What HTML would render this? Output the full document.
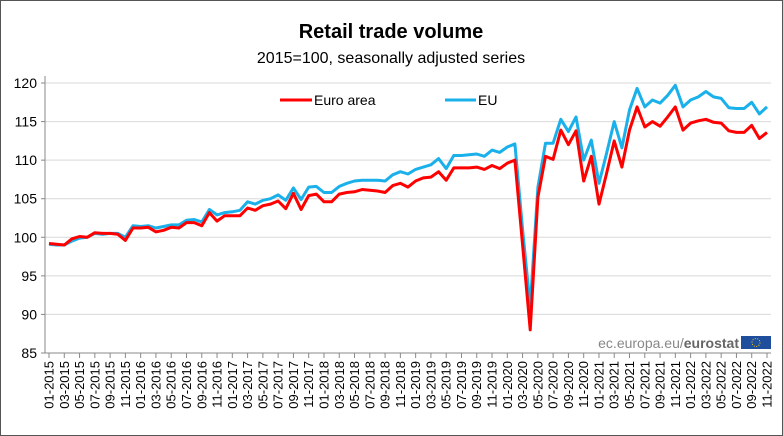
<!DOCTYPE html>
<html><head><meta charset="utf-8"><style>
html,body{margin:0;padding:0;background:#fff}
svg{display:block;font-family:"Liberation Sans",Arial,sans-serif}
</style></head><body>
<svg id="s" width="783" height="436" viewBox="0 0 783 436" xmlns="http://www.w3.org/2000/svg">
<rect x="0.5" y="0.5" width="782" height="435" fill="#fff" stroke="#555" stroke-width="1"/>
<text x="391" y="38" text-anchor="middle" font-size="20" font-weight="bold" fill="#000">Retail trade volume</text>
<text x="391" y="63" text-anchor="middle" font-size="16" fill="#000">2015=100, seasonally adjusted series</text>
<g id="grid"></g>
<line x1="280" y1="100" x2="312" y2="100" stroke="#ff0000" stroke-width="3"/>
<text x="314" y="105" font-size="14" fill="#000">Euro area</text>
<line x1="445" y1="100" x2="476" y2="100" stroke="#1ab0ea" stroke-width="3"/>
<text x="478" y="105" font-size="14" fill="#000">EU</text>
<polyline id="eu" fill="none" stroke="#1ab0ea" stroke-width="3" stroke-linejoin="round"/>
<polyline id="ea" fill="none" stroke="#ff0000" stroke-width="3" stroke-linejoin="round"/>
<text x="739" y="348" text-anchor="end" font-size="14" fill="#888">ec.europa.eu/<tspan font-weight="bold" fill="#666">eurostat</tspan></text>
<rect x="741" y="336" width="30" height="13" fill="#1f4e9c"/>
<circle cx="756" cy="342.5" r="4" fill="none" stroke="#ffd400" stroke-width="1" stroke-dasharray="1 1.5"/>
<g id="ax"></g>
</svg>
<script>
var ea=[99.2,99.1,99.0,99.8,100.1,100.0,100.6,100.5,100.5,100.4,99.6,101.2,101.2,101.3,100.7,100.9,101.3,101.2,101.9,101.9,101.5,103.2,102.1,102.8,102.8,102.8,103.8,103.5,104.1,104.3,104.7,103.7,105.7,103.6,105.4,105.6,104.6,104.6,105.6,105.8,105.9,106.2,106.1,106.0,105.8,106.7,107.0,106.5,107.3,107.7,107.8,108.5,107.4,109.0,109.0,109.0,109.1,108.8,109.3,108.9,109.6,110.0,99.0,88.0,105.2,110.5,110.1,113.9,112.0,113.8,107.3,110.5,104.3,108.3,112.5,109.1,113.9,116.9,114.3,115.0,114.4,115.6,116.9,113.9,114.8,115.1,115.3,114.9,114.8,113.8,113.6,113.6,114.5,112.8,113.6];
var eu=[99.1,99.0,99.0,99.5,99.9,100.0,100.5,100.4,100.5,100.5,100.0,101.5,101.4,101.5,101.2,101.4,101.6,101.6,102.2,102.3,102.0,103.6,102.9,103.2,103.3,103.5,104.6,104.3,104.8,105.0,105.5,104.8,106.4,104.9,106.5,106.6,105.8,105.8,106.6,107.0,107.3,107.4,107.4,107.4,107.3,108.1,108.5,108.2,108.8,109.1,109.4,110.2,108.9,110.6,110.6,110.7,110.8,110.5,111.3,111.0,111.7,112.1,101.0,91.0,106.5,112.2,112.2,115.3,113.7,115.6,110.0,112.6,107.0,110.9,115.0,111.6,116.5,119.3,116.9,117.8,117.4,118.4,119.7,116.9,117.8,118.2,118.9,118.2,118.0,116.8,116.7,116.7,117.5,116.0,116.9];
var NS="http://www.w3.org/2000/svg";
function X(i){return 49+i*(767-49)/94;}
function Y(v){return 83+(120-v)*270/35;}
function el(p,t,a,txt){var e=document.createElementNS(NS,t);for(var k in a)e.setAttribute(k,a[k]);if(txt!=null)e.textContent=txt;p.appendChild(e);return e;}
var g=document.getElementById('grid'),ax=document.getElementById('ax');
for(var v=85;v<=120;v+=5){var y=Y(v);
 if(v>85)el(g,'line',{x1:45,y1:y,x2:771,y2:y,stroke:'#d9d9d9','stroke-width':1});
 el(ax,'line',{x1:41,y1:y,x2:45,y2:y,stroke:'#888','stroke-width':1});
 el(ax,'text',{x:37,y:y+5,'text-anchor':'end','font-size':14,fill:'#000'},String(v));}
el(ax,'line',{x1:45,y1:76,x2:45,y2:353,stroke:'#888','stroke-width':1});
el(ax,'line',{x1:45,y1:353,x2:771,y2:353,stroke:'#888','stroke-width':1});
function pts(a){return a.map(function(v,i){return X(i).toFixed(1)+','+Y(v).toFixed(1);}).join(' ');}
document.getElementById('ea').setAttribute('points',pts(ea));
document.getElementById('eu').setAttribute('points',pts(eu));
for(var i=0;i<95;i+=2){var x=X(i);
 el(ax,'line',{x1:x,y1:353,x2:x,y2:358,stroke:'#888','stroke-width':1});
 var m=(i%12)+1,yr=2015+Math.floor(i/12);
 var lab=(m<10?'0':'')+m+'-'+yr;
 el(ax,'text',{x:0,y:0,'text-anchor':'end','font-size':13,fill:'#000',transform:'translate('+(x+4.5)+',361) rotate(-90)'},lab);}
</script>
</body></html>
